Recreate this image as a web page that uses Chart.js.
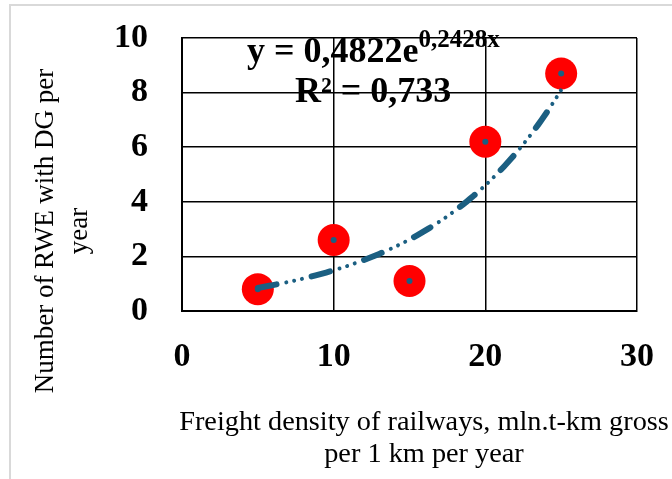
<!DOCTYPE html>
<html>
<head>
<meta charset="utf-8">
<script src="https://cdn.jsdelivr.net/npm/chart.js@4.4.1/dist/chart.umd.min.js"></script>
<style>
  html, body { margin: 0; padding: 0; background: #ffffff; }
  #wrap { width: 672px; height: 479px; position: relative; }
</style>
</head>
<body>
<div id="wrap"><canvas id="c" width="672" height="479"></canvas></div>
<script>
// ---- data ----
const xValues = [5, 10, 15, 20, 25];
const yValues = [0.8, 2.6, 1.1, 6.2, 8.7];
const xTicks = [0, 10, 20, 30];
const yTicks = [0, 2, 4, 6, 8, 10];
const equationMain = 'y = 0,4822e';
const equationExp = '0,2428x';
const rSquaredText = 'R² = 0,733';
const yTitle = ['Number of RWE with DG per', 'year'];
const xTitle = ['Freight density of railways, mln.t-km gross', 'per 1 km per year'];

// exponential least-squares trendline fitted to the data (as the spreadsheet does)
const n = xValues.length;
const lnY = yValues.map(v => Math.log(v));
const mx = xValues.reduce((a, b) => a + b, 0) / n;
const my = lnY.reduce((a, b) => a + b, 0) / n;
let sxy = 0, sxx = 0;
for (let i = 0; i < n; i++) { sxy += (xValues[i] - mx) * (lnY[i] - my); sxx += (xValues[i] - mx) ** 2; }
const fitB = sxy / sxx;
const fitA = Math.exp(my - fitB * mx);
const trendX = [];
for (let x = xValues[0]; x <= xValues[n - 1] + 1e-9; x += 0.25) trendX.push(x);
const trendPts = trendX.map(x => ({ x: x, y: fitA * Math.exp(fitB * x) }));

const pts = xValues.map((x, i) => ({ x: x, y: yValues[i] }));

const SERIF = "'Liberation Serif', 'Times New Roman', serif";
const TEAL = '#1b5f82';

const textPlugin = {
  id: 'texts',
  beforeDraw(chart) {
    const ctx = chart.ctx;
    ctx.save();
    ctx.strokeStyle = '#d9d9d9';
    ctx.lineWidth = 2;
    ctx.beginPath();
    ctx.moveTo(672, 5); ctx.lineTo(10, 5); ctx.lineTo(10, 479);
    ctx.stroke();
    ctx.restore();
  },
  afterDraw(chart) {
    const ctx = chart.ctx;
    ctx.save();
    ctx.fillStyle = '#000000';
    // equation
    ctx.textAlign = 'left';
    ctx.textBaseline = 'alphabetic';
    ctx.font = 'bold 36px ' + SERIF;
    ctx.fillText(equationMain, 247, 62);
    const w = ctx.measureText(equationMain).width;
    ctx.font = 'bold 25px ' + SERIF;
    ctx.fillText(equationExp, 247 + w, 47);
    ctx.font = 'bold 36px ' + SERIF;
    ctx.fillText(rSquaredText, 295, 102);
    // x title
    ctx.textAlign = 'center';
    ctx.font = '28.3px ' + SERIF;
    ctx.fillText(xTitle[0], 424, 430);
    ctx.fillText(xTitle[1], 424, 462);
    // y title
    ctx.translate(46, 231);
    ctx.rotate(-Math.PI / 2);
    ctx.textBaseline = 'middle';
    ctx.font = '27px ' + SERIF;
    ctx.fillText(yTitle[0], 0, 0);
    ctx.fillText(yTitle[1], 0, 34);
    ctx.restore();
  }
};

new Chart(document.getElementById('c'), {
  type: 'scatter',
  data: {
    datasets: [
      {
        label: 'centers',
        data: pts,
        pointRadius: 3,
        pointBackgroundColor: TEAL,
        pointBorderWidth: 0,
        showLine: false,
        order: 1
      },
      {
        label: 'trend dashes',
        data: trendPts,
        showLine: true,
        pointRadius: 0,
        borderColor: TEAL,
        borderWidth: 6,
        borderCapStyle: 'round',
        borderDash: [19, 36],
        tension: 0,
        fill: false,
        order: 2
      },
      {
        label: 'trend dots',
        data: trendPts,
        showLine: true,
        pointRadius: 0,
        borderColor: TEAL,
        borderWidth: 4,
        borderCapStyle: 'round',
        borderDash: [0.01, 8, 0.01, 8, 0.01, 38.97],
        borderDashOffset: 26,
        tension: 0,
        fill: false,
        order: 2
      },
      {
        label: 'points',
        data: pts,
        pointRadius: 16,
        pointBackgroundColor: '#ff0000',
        pointBorderWidth: 0,
        showLine: false,
        order: 3
      }
    ]
  },
  options: {
    responsive: false,
    animation: false,
    devicePixelRatio: 1,
    layout: { padding: { left: 0, top: 38, right: 35, bottom: 0 } },
    plugins: { legend: { display: false }, tooltip: { enabled: false } },
    scales: {
      x: {
        type: 'linear',
        min: 0, max: 30,
        afterBuildTicks: s => { s.ticks = xTicks.map(v => ({ value: v })); },
        afterFit: s => { s.height = 479 - 311; s.paddingLeft = 0; s.paddingRight = 0; },
        grid: { color: '#000000', lineWidth: 1.5, drawTicks: false },
        border: { color: '#000000', width: 2 },
        ticks: { color: '#000000', padding: 26, font: { family: SERIF, size: 34, weight: 'bold' }, maxRotation: 0 }
      },
      y: {
        type: 'linear',
        min: 0, max: 10,
        afterBuildTicks: s => { s.ticks = yTicks.map(v => ({ value: v })); },
        afterFit: s => { s.width = 182; s.paddingTop = 0; s.paddingBottom = 0; },
        grid: { color: '#000000', lineWidth: 1.5, drawTicks: false },
        border: { color: '#000000', width: 2 },
        ticks: { color: '#000000', padding: 34, font: { family: SERIF, size: 34, weight: 'bold' } }
      }
    }
  },
  plugins: [textPlugin]
});
</script>
</body>
</html>
